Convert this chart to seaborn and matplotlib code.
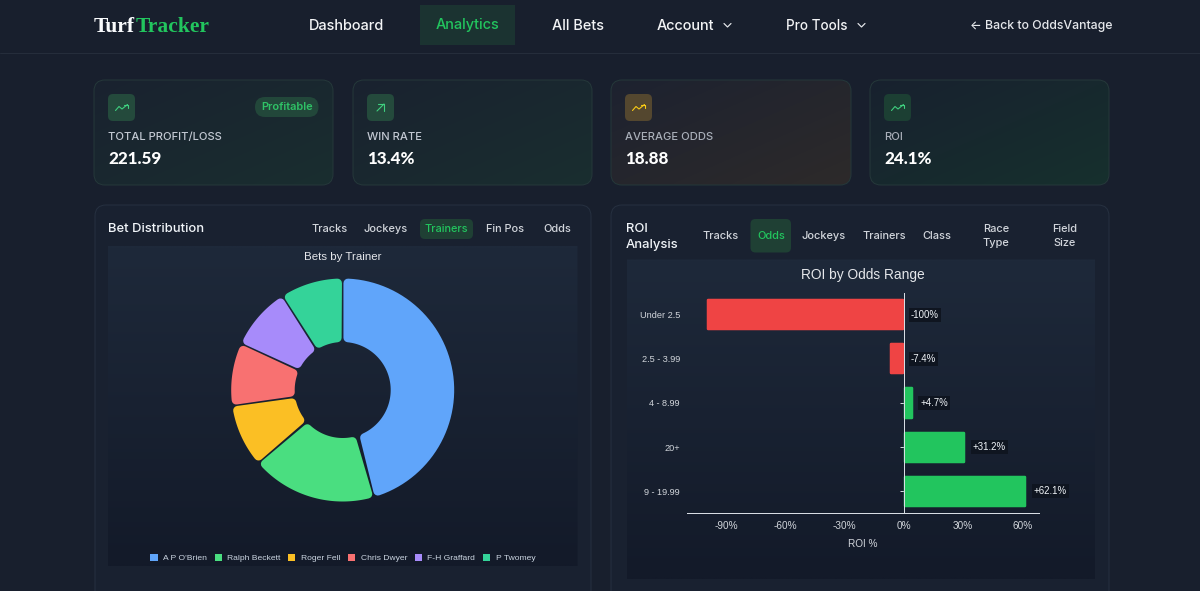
#!/usr/bin/env python
"""
TurfTracker analytics dashboard, bet distribution donut and ROI bars
"""

import numpy as np
import pandas as pd
import matplotlib
matplotlib.use("Agg")
import matplotlib.pyplot as plt
import seaborn as sns
from matplotlib.lines import Line2D
from matplotlib.patches import FancyBboxPatch, Patch
from matplotlib.path import Path

# Values
trainers = ["A P O'Brien", "Ralph Beckett", "Roger Fell", "Chris Dwyer", "F-H Graffard", "P Twomey"]
trainer_bets = [5, 2, 1, 1, 1, 1]
trainer_colors = ["#60a5fa", "#4ade80", "#fbbf24", "#f87171", "#a78bfa", "#34d399"]

odds_ranges = ["Under 2.5", "2.5 - 3.99", "4 - 8.99", "20+", "9 - 19.99"]
roi_values = [-100, -7.4, 4.7, 31.2, 62.1]
roi_ticks = [-90, -60, -30, 0, 30, 60]

card_labels = ["TOTAL PROFIT/LOSS", "WIN RATE", "AVERAGE ODDS", "ROI"]
card_values = ["221.59", "13.4%", "18.88", "24.1%"]

W, H = 1200, 591
PAGE = "#181f2d"
UI_FONT = ["Inter", "DejaVu Sans"]
CHART_FONT = ["Liberation Sans", "DejaVu Sans"]


def px(size):
    # font and line sizes below are given in image pixels
    return size * 0.72


def hex_rgb(c):
    return np.array(matplotlib.colors.to_rgb(c))


def box(ax, x0, y0, x1, y1, r, fc, ec="none", lw=1, z=1):
    p = FancyBboxPatch((x0, y0), x1 - x0, y1 - y0, boxstyle=f"round,pad=0,rounding_size={r}",
                       fc=fc, ec=ec, lw=px(lw), zorder=z)
    ax.add_patch(p)
    return p


def gradient_box(ax, x0, y0, x1, y1, r, c_a, c_b, ec="none", diagonal=True, z=1):
    # gradient from c_a (top left) to c_b (bottom right), clipped to the rounded box
    xx, yy = np.meshgrid(np.linspace(0, 1, 80), np.linspace(0, 1, 80))
    t = (xx + yy) / 2 if diagonal else yy
    img = hex_rgb(c_a) * (1 - t[..., None]) + hex_rgb(c_b) * t[..., None]
    p = box(ax, x0, y0, x1, y1, r, "none", ec=ec, z=z + 0.1)
    im = ax.imshow(img, extent=(x0, x1, y1, y0), aspect="auto", zorder=z, interpolation="bilinear")
    im.set_clip_path(p)


def label(ax, x, y, s, size, color="#f3f4f6", ha="left", weight="medium", family=UI_FONT, z=5):
    return ax.text(x, y + 1, s, fontsize=px(size), color=color, ha=ha, va="center",
                   fontweight=weight, family=family, zorder=z)


def trend_icon(ax, x, y, color):
    xs = [x - 6, x - 2.5, x + 0.5, x + 6]
    ys = [y + 3, y - 1, y + 1.5, y - 3]
    ax.plot(xs, ys, color=color, lw=px(1.1), zorder=5, solid_joinstyle="round")
    ax.plot([x + 2.5, x + 6, x + 6], [y - 3, y - 3, y], color=color, lw=px(1.1), zorder=5)


def chevron(ax, x, y):
    ax.plot([x - 3.5, x, x + 3.5], [y - 1.5, y + 2, y - 1.5], color="#e5e7eb", lw=px(1.2), zorder=5)


def round_slice(wedge, radius_px, gap_px, corner_px):
    # keeps the pie's angles, but with a constant gap and round corners
    R = wedge.r
    unit = R / radius_px
    outer = R - corner_px * unit
    inner = R - wedge.width + corner_px * unit
    d = (gap_px / 2 + corner_px) * unit
    a_out = np.degrees(np.arcsin(d / outer))
    a_in = np.degrees(np.arcsin(d / inner))
    t_out = np.radians(np.linspace(wedge.theta1 + a_out, wedge.theta2 - a_out, 60))
    t_in = np.radians(np.linspace(wedge.theta2 - a_in, wedge.theta1 + a_in, 60))
    xs = np.r_[outer * np.cos(t_out), inner * np.cos(t_in)]
    ys = np.r_[outer * np.sin(t_out), inner * np.sin(t_in)]
    wedge._path = Path(np.c_[xs, ys], closed=True)
    wedge.set_linewidth(px(corner_px * 2))
    wedge.set_joinstyle("round")
    wedge.set_edgecolor(wedge.get_facecolor())


sns.set_theme(style="dark")
plt.rcParams["font.family"] = CHART_FONT
plt.rcParams["axes.unicode_minus"] = False

fig = plt.figure(figsize=(W / 100, H / 100), dpi=100, facecolor=PAGE)

# Page furniture, drawn on one axes in image pixels
bg = fig.add_axes([0, 0, 1, 1], facecolor=PAGE)
bg.set_xlim(0, W)
bg.set_ylim(H, 0)
bg.set_autoscale_on(False)
bg.axis("off")

bg.add_line(Line2D([0, W], [52.5, 52.5], color="#252d3b", lw=px(1)))
label(bg, 94, 25.5, "Turf", 21.5, color="#f8fafc", weight="bold", family=["Liberation Serif"])
label(bg, 135.5, 25.5, "Tracker", 21.5, color="#22c55e", weight="bold", family=["Liberation Serif"])

bg.add_patch(plt.Rectangle((420, 5), 95, 40, fc="#1b3331", ec="none", zorder=1))
label(bg, 346, 24.5, "Dashboard", 14.5, ha="center")
label(bg, 467.5, 24.5, "Analytics", 14.5, color="#22c55e", ha="center")
label(bg, 577.5, 24.5, "All Bets", 14.5, ha="center")
label(bg, 685.5, 24.5, "Account", 14.5, ha="center")
chevron(bg, 727.5, 25)
label(bg, 817, 24.5, "Pro Tools", 13.5, ha="center")
chevron(bg, 861.5, 25)
label(bg, 1112, 25, "← Back to OddsVantage", 12.3, color="#e5e7eb", ha="right")

# Stat cards
card_x = [(94, 333), (353, 592), (611, 851), (870, 1109)]
card_fill = [("#192230", "#1a2e2f"), ("#192230", "#1a2e2f"), ("#1d2230", "#2d2a2a"), ("#18212f", "#16302d")]
icon_fill = ["#244a3c", "#244a3c", "#54472f", "#1c3f33"]
icon_line = ["#3fd07f", "#3fd07f", "#facc15", "#3fd07f"]
for i, (x0, x1) in enumerate(card_x):
    gradient_box(bg, x0, 80, x1, 185, 11, card_fill[i][0], card_fill[i][1], ec="#25383a")
    box(bg, x0 + 14, 94, x0 + 41, 121, 5, icon_fill[i], z=3)
    if i == 1:
        xm, ym = x0 + 27.5, 107.5
        bg.plot([xm - 3.5, xm + 3.5], [ym + 3.5, ym - 3.5], color=icon_line[i], lw=px(1.1), zorder=5)
        bg.plot([xm - 3, xm + 3.5, xm + 3.5], [ym - 3.5, ym - 3.5, ym + 3], color=icon_line[i], lw=px(1.1), zorder=5)
    else:
        trend_icon(bg, x0 + 27.5, 107.5, icon_line[i])
    label(bg, x0 + 14, 136, card_labels[i], 11.2, color="#c3c9d3" if i < 2 else "#a9afb9")
    label(bg, x0 + 14, 158, card_values[i], 17, color="#ffffff", weight="black", family=["Lato", "DejaVu Sans"])
box(bg, 255, 97, 318.5, 117, 10, "#22473a", z=3)
label(bg, 287, 106, "Profitable", 11, color="#2fc266", ha="center", weight="semibold")

# Chart panels
for x0, x1 in [(95, 591), (611, 1109)]:
    box(bg, x0, 205, x1, 620, 11, "#192130", ec="#263040")
gradient_box(bg, 108, 246, 577.5, 566, 0, "#1e293a", "#131a29", diagonal=False, z=2)
gradient_box(bg, 626.5, 259.5, 1095, 579.5, 0, "#1e293a", "#131a29", diagonal=False, z=2)

label(bg, 108.5, 228.5, "Bet Distribution", 13, color="#f1f5f9")
box(bg, 420, 219, 473, 239, 5, "#1f4034", z=3)
for s, x, c in [("Tracks", 330, "#d1d5db"), ("Jockeys", 385.5, "#d1d5db"), ("Trainers", 446, "#22c55e"),
                ("Fin Pos", 505, "#d1d5db"), ("Odds", 557, "#d1d5db")]:
    label(bg, x, 228.5, s, 11, color=c, ha="center")

label(bg, 626, 227.5, "ROI", 13, color="#f1f5f9")
label(bg, 626, 244, "Analysis", 13, color="#f1f5f9")
box(bg, 750.5, 219, 791, 252.5, 5, "#1f4034", z=3)
for s, x, c in [("Tracks", 721, "#d1d5db"), ("Odds", 771, "#22c55e"), ("Jockeys", 824, "#d1d5db"),
                ("Trainers", 884, "#d1d5db"), ("Class", 937, "#d1d5db")]:
    label(bg, x, 235, s, 11, color=c, ha="center")
for s, x, y in [("Race", 996, 228.5), ("Type", 996, 242), ("Field", 1064.5, 228.5), ("Size", 1064.5, 242)]:
    label(bg, x, y, s, 11, color="#d1d5db", ha="center")

# Donut: axes covers the plot area, one data unit is the outer radius
radius_px = 111.5
cx, cy = 342.7, 390
l, t, r, b = 108, 246, 577.5, 566
pie_ax = fig.add_axes([l / W, 1 - b / H, (r - l) / W, (b - t) / H], facecolor="none")
wedges, _ = pie_ax.pie(trainer_bets, colors=trainer_colors, startangle=90, counterclock=False,
                       radius=1, wedgeprops={"width": 1 - 48 / radius_px})
for w in wedges:
    round_slice(w, radius_px, 1.5, 4.5)
pie_ax.set_aspect("equal")
pie_ax.set_xlim((l - cx) / radius_px, (r - cx) / radius_px)
pie_ax.set_ylim((cy - b) / radius_px, (cy - t) / radius_px)
pie_ax.set_title("Bets by Trainer", fontsize=px(11.5), color="#e5e7eb", y=0.957, pad=0)
handles = [Patch(fc=c, ec="none") for c in trainer_colors]
pie_ax.legend(handles, trainers, ncol=6, loc="lower center", bbox_to_anchor=(0.5, 0.0), frameon=False,
              fontsize=px(8.5), labelcolor="#cbd5e1", handlelength=0.85, handleheight=0.85,
              handletextpad=0.6, columnspacing=0.94, borderaxespad=0.05)

# ROI bars
l, t, r, b = 686.7, 292.7, 1039, 513.3
bar_ax = fig.add_axes([l / W, 1 - b / H, (r - l) / W, (b - t) / H], facecolor="none")
roi_df = pd.DataFrame({"range": odds_ranges, "roi": roi_values})
roi_df["sign"] = np.where(roi_df["roi"] < 0, "loss", "gain")
sns.barplot(data=roi_df, x="roi", y="range", hue="sign", palette={"loss": "#ef4444", "gain": "#22c55e"},
            dodge=False, legend=False, width=0.66, ax=bar_ax, saturation=1)
bar_ax.set_xlim(-110, 68.4)

# round corners come from a thick edge, so pull the bar ends in by half of it
edge_px = 2.5
inset = (edge_px / 2) / ((r - l) / (68.4 + 110))
for bar in bar_ax.patches:
    w = bar.get_width()
    sign = 1 if w > 0 else -1
    bar.set_x(bar.get_x() + sign * inset)
    bar.set_width(w - sign * 2 * inset)
    bar.set_edgecolor(bar.get_facecolor())
    bar.set_linewidth(px(edge_px))
    bar.set_joinstyle("round")

bar_ax.set_xticks(roi_ticks)
bar_ax.set_xticklabels([f"{v}%" for v in roi_ticks])
bar_ax.set_xlabel("ROI %", fontsize=px(10), color="#d1d5db", labelpad=px(8))
bar_ax.set_ylabel("")
bar_ax.set_title("ROI by Odds Range", fontsize=px(13.7), color="#e5e7eb", pad=px(14))
bar_ax.grid(False)
bar_ax.set_axisbelow(True)
bar_ax.spines["left"].set_position(("data", 0))
for side in ["top", "right"]:
    bar_ax.spines[side].set_visible(False)
for side in ["left", "bottom"]:
    bar_ax.spines[side].set_color("#d8dde4")
    bar_ax.spines[side].set_linewidth(px(1))
bar_ax.tick_params(axis="x", length=0, pad=px(8), labelsize=px(10), colors="#d1d5db", bottom=False)
bar_ax.tick_params(axis="y", length=px(4), width=px(1), pad=px(220), labelsize=px(9.2),
                   colors="#d1d5db", left=True)

for i, v in enumerate(roi_values):
    bar_ax.annotate(f"{v:+g}%", xy=(max(v, 0), i), xytext=(px(7), 0), textcoords="offset points",
                    ha="left", va="center", fontsize=px(9.7), color="#f1f5f9",
                    bbox={"boxstyle": "square,pad=0.2", "fc": "#0f1520", "ec": "none"}, zorder=6)

fig.savefig("out.png", dpi=100, facecolor=PAGE)
